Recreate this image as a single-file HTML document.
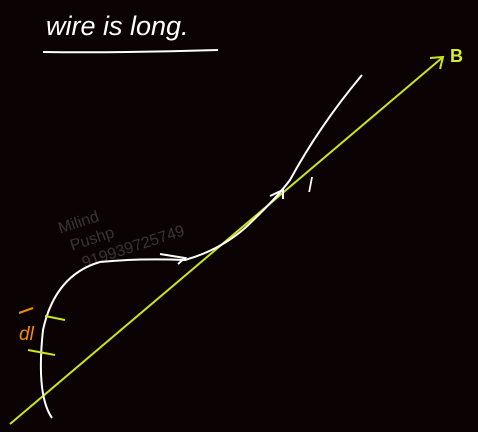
<!DOCTYPE html>
<html><head><meta charset="utf-8"><style>
html,body{margin:0;padding:0;background:#0b0204;}
svg{display:block}
</style></head><body>
<svg width="478" height="432" viewBox="0 0 478 432" xmlns="http://www.w3.org/2000/svg">
<rect width="478" height="432" fill="#0b0204"/>
<text x="46" y="35" fill="#fff" font-family="Liberation Sans, sans-serif" font-style="italic" font-size="27">wire is long.</text>
<path d="M43 52 Q120 53 218 50" stroke="#fff" stroke-width="2" fill="none"/>
<g transform="rotate(-18 120 230)" fill="#3a3436" font-family="Liberation Sans, sans-serif" font-size="16">
<text x="62" y="215">Milind</text>
<text x="68" y="235">Pushp</text>
<text x="74" y="255">919939725749</text>
</g>
<line x1="10" y1="424" x2="443" y2="57" stroke="#c8e61e" stroke-width="2"/>
<path d="M430 58 L443 57 L440 69" stroke="#c8e61e" stroke-width="2" fill="none"/>
<text x="450" y="62" fill="#d8f020" font-family="Liberation Sans, sans-serif" font-weight="bold" font-size="18">B</text>
<path d="M52 418 Q36 395 43 330 Q55 275 100 262 Q140 258 185 260 Q220 250 245 228 Q275 200 290 180 Q320 125 362 75" stroke="#fff" stroke-width="2" fill="none"/>
<path d="M160 254 L185 258 L178 264" stroke="#fff" stroke-width="2" fill="none"/>
<path d="M270 196 L283 190 L283 199" stroke="#fff" stroke-width="2" fill="none"/>
<text x="308" y="192" fill="#fff" font-family="Liberation Sans, sans-serif" font-style="italic" font-size="20">l</text>
<line x1="45" y1="316" x2="65" y2="320" stroke="#c8e61e" stroke-width="2"/>
<line x1="28" y1="350" x2="55" y2="355" stroke="#c8e61e" stroke-width="2"/>
<text x="19" y="340" fill="#f08a10" font-family="Liberation Sans, sans-serif" font-style="italic" font-size="19">dl</text>
<line x1="19" y1="313" x2="33" y2="308" stroke="#f08a10" stroke-width="2"/>
</svg>
</body></html>
